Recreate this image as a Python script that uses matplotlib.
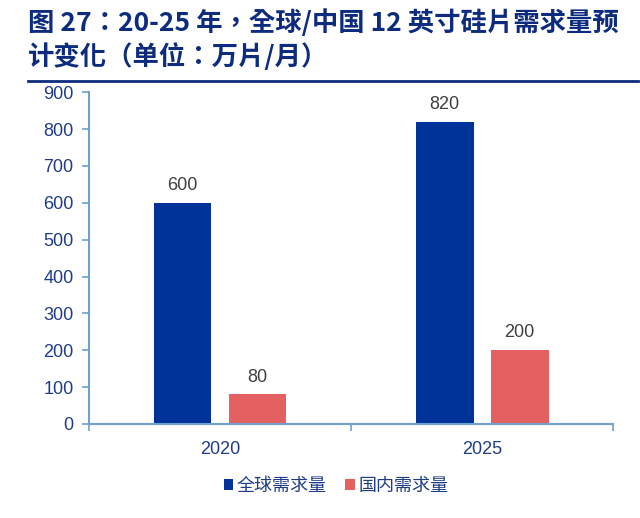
import matplotlib
matplotlib.use("Agg")
import matplotlib.pyplot as plt
from matplotlib.patches import Patch
from matplotlib.lines import Line2D
import numpy as np

categories = ["2020", "2025"]
global_demand = [600, 820]
china_demand = [80, 200]
series_names = ["全球需求量", "国内需求量"]
yticks = [0, 100, 200, 300, 400, 500, 600, 700, 800, 900]
title_text = "图 27：20-25 年，全球/中国 12 英寸硅片需求量预\n计变化（单位：万片/月）"

BLUE = "#003399"
RED = "#E56060"
AXIS = "#6FA0D0"
TICKTXT = "#1F3C88"
TITLE = "#0D2C7E"
LBL = "#404040"

num_font = ["Liberation Sans", "Noto Sans CJK SC"]
cjk_font = ["Noto Sans CJK SC", "DejaVu Sans"]
title_font = ["Noto Sans CJK TC", "DejaVu Sans"]

fig = plt.figure(figsize=(6.4, 5.18), dpi=100)
ax = fig.add_axes([0.139, 0.1815, 0.819, 0.6405])

x = np.arange(len(categories))
w = 0.221
off = 0.143
b1 = ax.bar(x - off, global_demand, w, color=BLUE)
b2 = ax.bar(x + off, china_demand, w, color=RED)

for bars, vals in ((b1, global_demand), (b2, china_demand)):
    for rect, v in zip(bars, vals):
        ax.text(rect.get_x() + rect.get_width() / 2, v + 24, str(v),
                ha="center", va="bottom", fontsize=13, color=LBL, family=num_font)

ax.set_xlim(-0.5, 1.5)
ax.set_ylim(0, 900)
ax.set_yticks(yticks)
ax.set_yticklabels([str(t) for t in yticks], family=num_font, fontsize=13, color=TICKTXT)
ax.set_xticks([-0.5, 0.5, 1.5])
ax.set_xticklabels([])
ax.set_xticks(x, minor=True)
ax.set_xticklabels(categories, minor=True, family=num_font, fontsize=13, color=TICKTXT)
ax.tick_params(axis="x", which="minor", length=0, pad=12)
ax.tick_params(axis="x", which="major", length=5, color=AXIS, width=1.2, direction="out")
ax.tick_params(axis="y", length=5, color=AXIS, width=1.2, direction="out", pad=6)

for s in ("top", "right"):
    ax.spines[s].set_visible(False)
for s in ("left", "bottom"):
    ax.spines[s].set_color(AXIS)
    ax.spines[s].set_linewidth(1.5)

fig.text(0.044, 0.982, title_text, ha="left", va="top", fontsize=19,
         fontweight="bold", color=TITLE, family=title_font, linespacing=1.28)
fig.add_artist(Line2D([0.044, 0.997], [0.843, 0.843], color=TITLE, linewidth=2,
                      transform=fig.transFigure))

handles = [Patch(facecolor=BLUE, label=series_names[0]),
           Patch(facecolor=RED, label=series_names[1])]
leg = fig.legend(handles=handles, loc="center", bbox_to_anchor=(0.525, 0.062), ncol=2,
                 frameon=False, prop={"family": cjk_font, "size": 13},
                 handlelength=0.5, handleheight=0.5, handletextpad=0.2, columnspacing=1.05)
for t in leg.get_texts():
    t.set_color(TICKTXT)

fig.savefig("out.png", dpi=100)
